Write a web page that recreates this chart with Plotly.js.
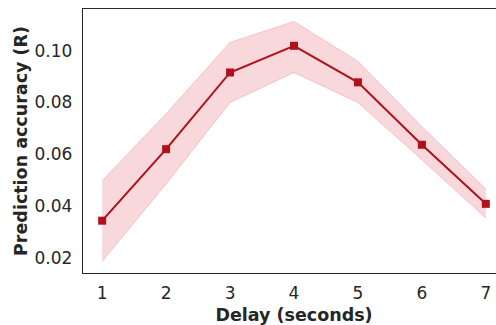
<!DOCTYPE html>
<html>
<head>
<meta charset="utf-8">
<script src="https://cdn.plot.ly/plotly-3.0.1.min.js"></script>
<style>
html,body{margin:0;padding:0;overflow:hidden;background:#fff;width:496px;height:325px;}
#chart{width:510px;height:325px;}
</style>
</head>
<body>
<div id="chart"></div>
<script>
const delays = [1, 2, 3, 4, 5, 6, 7];
const meanAcc = [0.0344, 0.0620, 0.0916, 0.1019, 0.0878, 0.0637, 0.0409];
const upperAcc = [0.0498, 0.0757, 0.1032, 0.1113, 0.0959, 0.0707, 0.0466];
const lowerAcc = [0.0187, 0.0486, 0.0800, 0.0916, 0.0800, 0.0579, 0.0354];
const yTicks = [0.02, 0.04, 0.06, 0.08, 0.10];
const yTickText = ['0.02', '0.04', '0.06', '0.08', '0.10'];

const textColor = '#262626';
const lineColor = '#b0101c';
const bandEdge = 'rgba(225,120,130,0.35)';
const bandFill = 'rgba(232,125,135,0.30)';

const traces = [
  {x: delays, y: lowerAcc, type: 'scatter', mode: 'lines',
   line: {color: bandEdge, width: 1}, hoverinfo: 'skip', showlegend: false},
  {x: delays, y: upperAcc, type: 'scatter', mode: 'lines', fill: 'tonexty',
   fillcolor: bandFill, line: {color: bandEdge, width: 1}, hoverinfo: 'skip', showlegend: false},
  {x: delays, y: meanAcc, type: 'scatter', mode: 'lines+markers',
   line: {color: lineColor, width: 2},
   marker: {symbol: 'square', size: 8, color: lineColor}, showlegend: false}
];

const layout = {
  width: 510, height: 325,
  margin: {l: 83, r: 5, t: 9, b: 52, pad: 0},
  paper_bgcolor: '#fff', plot_bgcolor: '#fff',
  font: {family: 'DejaVu Sans', color: textColor, size: 17},
  xaxis: {
    range: [0.7, 7.3], tickvals: delays, ticktext: delays.map(String),
    showgrid: false, zeroline: false, showline: true, mirror: true,
    linecolor: textColor, linewidth: 1.25, ticks: '', ticklabelstandoff: 4,
    tickfont: {size: 17, color: textColor},
    title: {text: 'Delay (seconds)', font: {size: 17.5, color: textColor, weight: 'bold'}, standoff: 7},
    automargin: false
  },
  yaxis: {
    range: [0.0142, 0.1161], tickvals: yTicks, ticktext: yTickText,
    showgrid: false, zeroline: false, showline: true, mirror: true,
    linecolor: textColor, linewidth: 1.25, ticks: '', ticklabelstandoff: 6,
    tickfont: {size: 17, color: textColor},
    title: {text: 'Prediction accuracy (R)', font: {size: 17.5, color: textColor, weight: 'bold'}, standoff: 2},
    automargin: false
  }
};

Plotly.newPlot('chart', traces, layout, {displayModeBar: false, staticPlot: true});
</script>
</body>
</html>
